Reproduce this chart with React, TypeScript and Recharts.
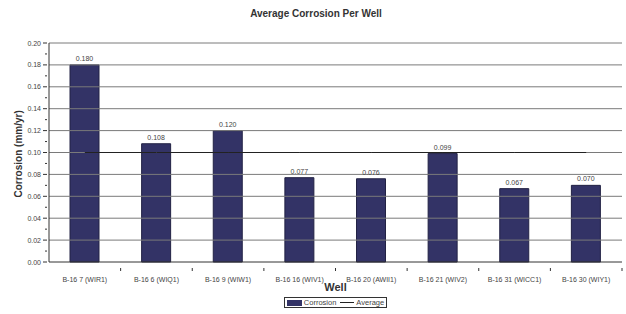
import React from 'react';
import { ComposedChart, Bar, Line, XAxis, YAxis, ReferenceLine, LabelList, Legend } from 'recharts';

const wells = ['B-16 7 (WIR1)', 'B-16 6 (WIQ1)', 'B-16 9 (WIW1)', 'B-16 16 (WIV1)', 'B-16 20 (AWII1)', 'B-16 21 (WIV2)', 'B-16 31 (WICC1)', 'B-16 30 (WIY1)'];
const corrosion = [0.18, 0.108, 0.12, 0.077, 0.076, 0.099, 0.067, 0.07];
const average = [0.1, 0.1, 0.1, 0.1, 0.1, 0.1, 0.1, 0.1];
const yTicks = [0, 0.01, 0.02, 0.03, 0.04, 0.05, 0.06, 0.07, 0.08, 0.09, 0.1, 0.11, 0.12, 0.13, 0.14, 0.15, 0.16, 0.17, 0.18, 0.19, 0.2];
const gridValues = [0.02, 0.04, 0.06, 0.08, 0.1, 0.12, 0.14, 0.16, 0.18, 0.2];

const data = wells.map((w, i) => ({ well: w, corrosion: corrosion[i], average: average[i] }));

const FONT = 'Arial, "Liberation Sans", sans-serif';
const W = 626;
const H = 314;
const M = { top: 43, right: 4, left: 19, bottom: 23 };
const Y_W = 30;
const X_H = 29;
const HALF_BAND = (W - M.left - Y_W - M.right) / wells.length / 2;

const YTick = (props: any) => {
  const { x, y, payload } = props;
  const v = payload.value as number;
  const major = Math.round(v * 100) % 2 === 0;
  return (
    <g>
      <line x1={x + 6 - (major ? 4 : 2)} x2={x + 6} y1={y} y2={y} stroke="#333" />
      {major && (
        <text x={x} y={y} dy={2.5} textAnchor="end" fontSize={7} fill="#444" fontFamily={FONT}>
          {v.toFixed(2)}
        </text>
      )}
    </g>
  );
};

const XTick = (props: any) => {
  const { x, y, payload } = props;
  return (
    <g>
      <line x1={x + HALF_BAND} x2={x + HALF_BAND} y1={y - 2} y2={y + 1} stroke="#333" />
      <text x={x} y={y} dy={12} textAnchor="middle" fontSize={7} fill="#444" fontFamily={FONT}>
        {payload.value}
      </text>
    </g>
  );
};

const LegendContent = () => (
  <div style={{ display: 'flex', flexDirection: 'column', alignItems: 'center', paddingLeft: M.left + Y_W - M.right }}>
    <div
      style={{
        fontFamily: FONT,
        fontWeight: 'bold',
        fontSize: 11,
        color: '#333',
        height: 16,
        lineHeight: '16px',
        marginBottom: 2,
      }}
    >
      Well
    </div>
    <div
      style={{
        display: 'flex',
        alignItems: 'center',
        border: '1px solid #333',
        padding: '0 2px',
        height: 9,
        fontFamily: FONT,
        fontSize: 7.5,
        color: '#444',
        background: '#fff',
      }}
    >
      <span style={{ display: 'inline-block', width: 15, height: 6, background: '#333366', marginRight: 2 }} />
      <span style={{ marginRight: 4 }}>Corrosion</span>
      <span style={{ display: 'inline-block', width: 14, height: 1, background: '#222', marginRight: 2 }} />
      <span>Average</span>
    </div>
  </div>
);

export default function App() {
  return (
    <div style={{ position: 'absolute', left: 0, top: 0, width: W, height: H, background: '#fff' }}>
      <div
        style={{
          position: 'absolute',
          top: 8,
          left: 3,
          width: W,
          textAlign: 'center',
          fontFamily: FONT,
          fontWeight: 'bold',
          fontSize: 10,
          color: '#333',
        }}
      >
        Average Corrosion Per Well
      </div>
      <ComposedChart width={W} height={H} data={data} margin={M} barCategoryGap="30%">
        {gridValues.map((g) => (
          <ReferenceLine key={g} y={g} stroke="#7a7a7a" strokeWidth={1} ifOverflow="visible" />
        ))}
        <XAxis
          dataKey="well"
          height={X_H}
          interval={0}
          tick={<XTick />}
          tickLine={false}
          axisLine={{ stroke: '#333' }}
        />
        <YAxis
          width={Y_W}
          domain={[0, 0.2]}
          ticks={yTicks}
          interval={0}
          tick={<YTick />}
          tickLine={false}
          axisLine={{ stroke: '#333' }}
          label={{ value: 'Corrosion (mm/yr)', angle: -90, position: 'insideLeft', offset: -1, dy: 45, fontSize: 10, fontWeight: 'bold', fill: '#333', fontFamily: FONT }}
        />
        <YAxis yAxisId="right" orientation="right" width={0} tick={false} tickLine={false} axisLine={{ stroke: '#b0a8a8' }} />
        <Bar dataKey="corrosion" name="Corrosion" fill="#333366" stroke="#222244" barSize={29} isAnimationActive={false}>
          <LabelList
            dataKey="corrosion"
            position="top"
            offset={4}
            fontSize={7}
            fill="#444"
            fontFamily={FONT}
            formatter={(v: any) => Number(v).toFixed(3)}
          />
        </Bar>
        <Line dataKey="average" name="Average" stroke="#222" strokeWidth={1} dot={false} activeDot={false} isAnimationActive={false} />
        <Legend
          layout="horizontal"
          verticalAlign="middle"
          align="center"
          content={<LegendContent />}
          wrapperStyle={{ top: 279, left: 0, width: W }}
        />
      </ComposedChart>
    </div>
  );
}
